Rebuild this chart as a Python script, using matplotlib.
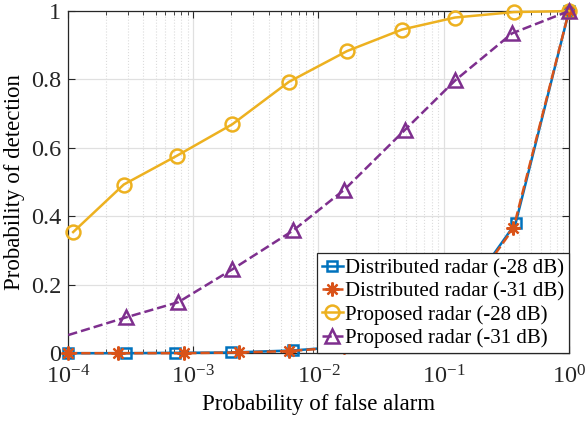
import matplotlib
matplotlib.use("Agg")
import matplotlib.pyplot as plt
from matplotlib.patches import Rectangle
from matplotlib.ticker import FixedLocator, FixedFormatter, LogLocator, NullFormatter

plt.rcParams["font.family"] = ["Liberation Serif", "DejaVu Serif"]
plt.rcParams["mathtext.fontset"] = "custom"
plt.rcParams["mathtext.rm"] = "Liberation Serif"

# ROC curves: probability of false alarm vs probability of detection
pfa_dist28 = [1e-4, 2.9e-4, 7.1e-4, 2.0e-3, 6.3e-3, 1.7e-2, 4.7e-2, 0.123, 0.375, 1.0]
pd_dist28 = [0.0, 0.0, 0.001, 0.002, 0.008, 0.02, 0.05, 0.13, 0.38, 1.0]
pfa_dist31 = [1e-4, 2.5e-4, 8.5e-4, 2.3e-3, 5.8e-3, 1.6e-2, 4.5e-2, 0.12, 0.36, 1.0]
pd_dist31 = [0.0, 0.0, 0.0, 0.002, 0.006, 0.018, 0.045, 0.12, 0.365, 1.0]
pfa_prop28 = [1.1e-4, 2.79e-4, 7.4e-4, 2.05e-3, 5.8e-3, 1.69e-2, 4.65e-2, 0.1225, 0.363, 1.0]
pd_prop28 = [0.354, 0.493, 0.577, 0.669, 0.793, 0.883, 0.946, 0.981, 0.997, 1.0]
pfa_prop31 = [5e-5, 2.93e-4, 7.6e-4, 2.05e-3, 6.3e-3, 1.61e-2, 4.88e-2, 0.124, 0.352, 1.0]
pd_prop31 = [0.019, 0.105, 0.149, 0.245, 0.359, 0.478, 0.652, 0.798, 0.935, 1.0]

labels = ["Distributed radar (-28 dB)", "Distributed radar (-31 dB)",
          "Proposed radar (-28 dB)", "Proposed radar (-31 dB)"]
xticks = [1e-4, 1e-3, 1e-2, 1e-1, 1e0]
xticklabels = [r"$\mathregular{10^{-4}}$", r"$\mathregular{10^{-3}}$", r"$\mathregular{10^{-2}}$",
               r"$\mathregular{10^{-1}}$", r"$\mathregular{10^{0}}$"]
yticks = [0, 0.2, 0.4, 0.6, 0.8, 1.0]
yticklabels = ["0", "0.2", "0.4", "0.6", "0.8", "1"]

fig = plt.figure(figsize=(5.86, 4.25), dpi=100)
ax = fig.add_axes([0.116, 0.169, 0.855, 0.805])

lw = 1.8
ax.plot(pfa_dist28, pd_dist28, "-", color="#0072BD", lw=lw, marker="s", ms=7,
        mfc="none", mew=1.8, clip_on=False, zorder=3, label=labels[0])
ax.plot(pfa_dist31, pd_dist31, "--", color="#D95319", lw=lw, marker=(8, 2, 0), ms=10,
        mew=1.6, clip_on=False, zorder=4, label=labels[1])
ax.plot(pfa_prop28, pd_prop28, "-", color="#EDB120", lw=lw, marker="o", ms=10,
        mfc="none", mew=1.8, clip_on=False, zorder=5, label=labels[2])
l4, = ax.plot(pfa_prop31, pd_prop31, "--", color="#7E2F8E", lw=lw, marker="^", ms=10,
              mfc="none", mew=1.8, zorder=6, label=labels[3])
# clip only on the left so the curve starts at the axis edge
l4.set_clip_path(Rectangle((0, -0.1), 1.2, 1.2, transform=ax.transAxes))

ax.set_xscale("log")
ax.set_xlim(1e-4, 1)
ax.set_ylim(0, 1)
ax.xaxis.set_major_locator(FixedLocator(xticks))
ax.xaxis.set_major_formatter(FixedFormatter(xticklabels))
ax.xaxis.set_minor_locator(LogLocator(base=10, subs=range(2, 10)))
ax.xaxis.set_minor_formatter(NullFormatter())
ax.set_yticks(yticks)
ax.set_yticklabels(yticklabels)

ax.grid(True, which="major", color="#e0e0e0", lw=0.9)
ax.grid(True, which="minor", axis="x", color="#dcdcdc", lw=0.8, ls=":")
ax.set_axisbelow(True)
ax.tick_params(which="both", direction="in", top=True, right=True, colors="#262626",
               labelsize=17.5)
ax.tick_params(axis="x", pad=9)
ax.tick_params(axis="y", pad=5)
ax.tick_params(which="major", length=5)
ax.tick_params(which="minor", length=3)
for s in ax.spines.values():
    s.set_color("#262626")
    s.set_linewidth(0.9)

ax.set_xlabel("Probability of false alarm", fontsize=16.5, labelpad=4)
ax.set_ylabel("Probability of detection", fontsize=16.5, labelpad=4)

leg = ax.legend(loc="lower right", fontsize=15, borderaxespad=0, fancybox=False,
                framealpha=1, edgecolor="#262626", handlelength=1.0, handletextpad=0.1,
                borderpad=0.25, labelspacing=0.17)
leg.get_frame().set_linewidth(0.9)
leg.set_zorder(10)

fig.savefig("out.png", dpi=100)
